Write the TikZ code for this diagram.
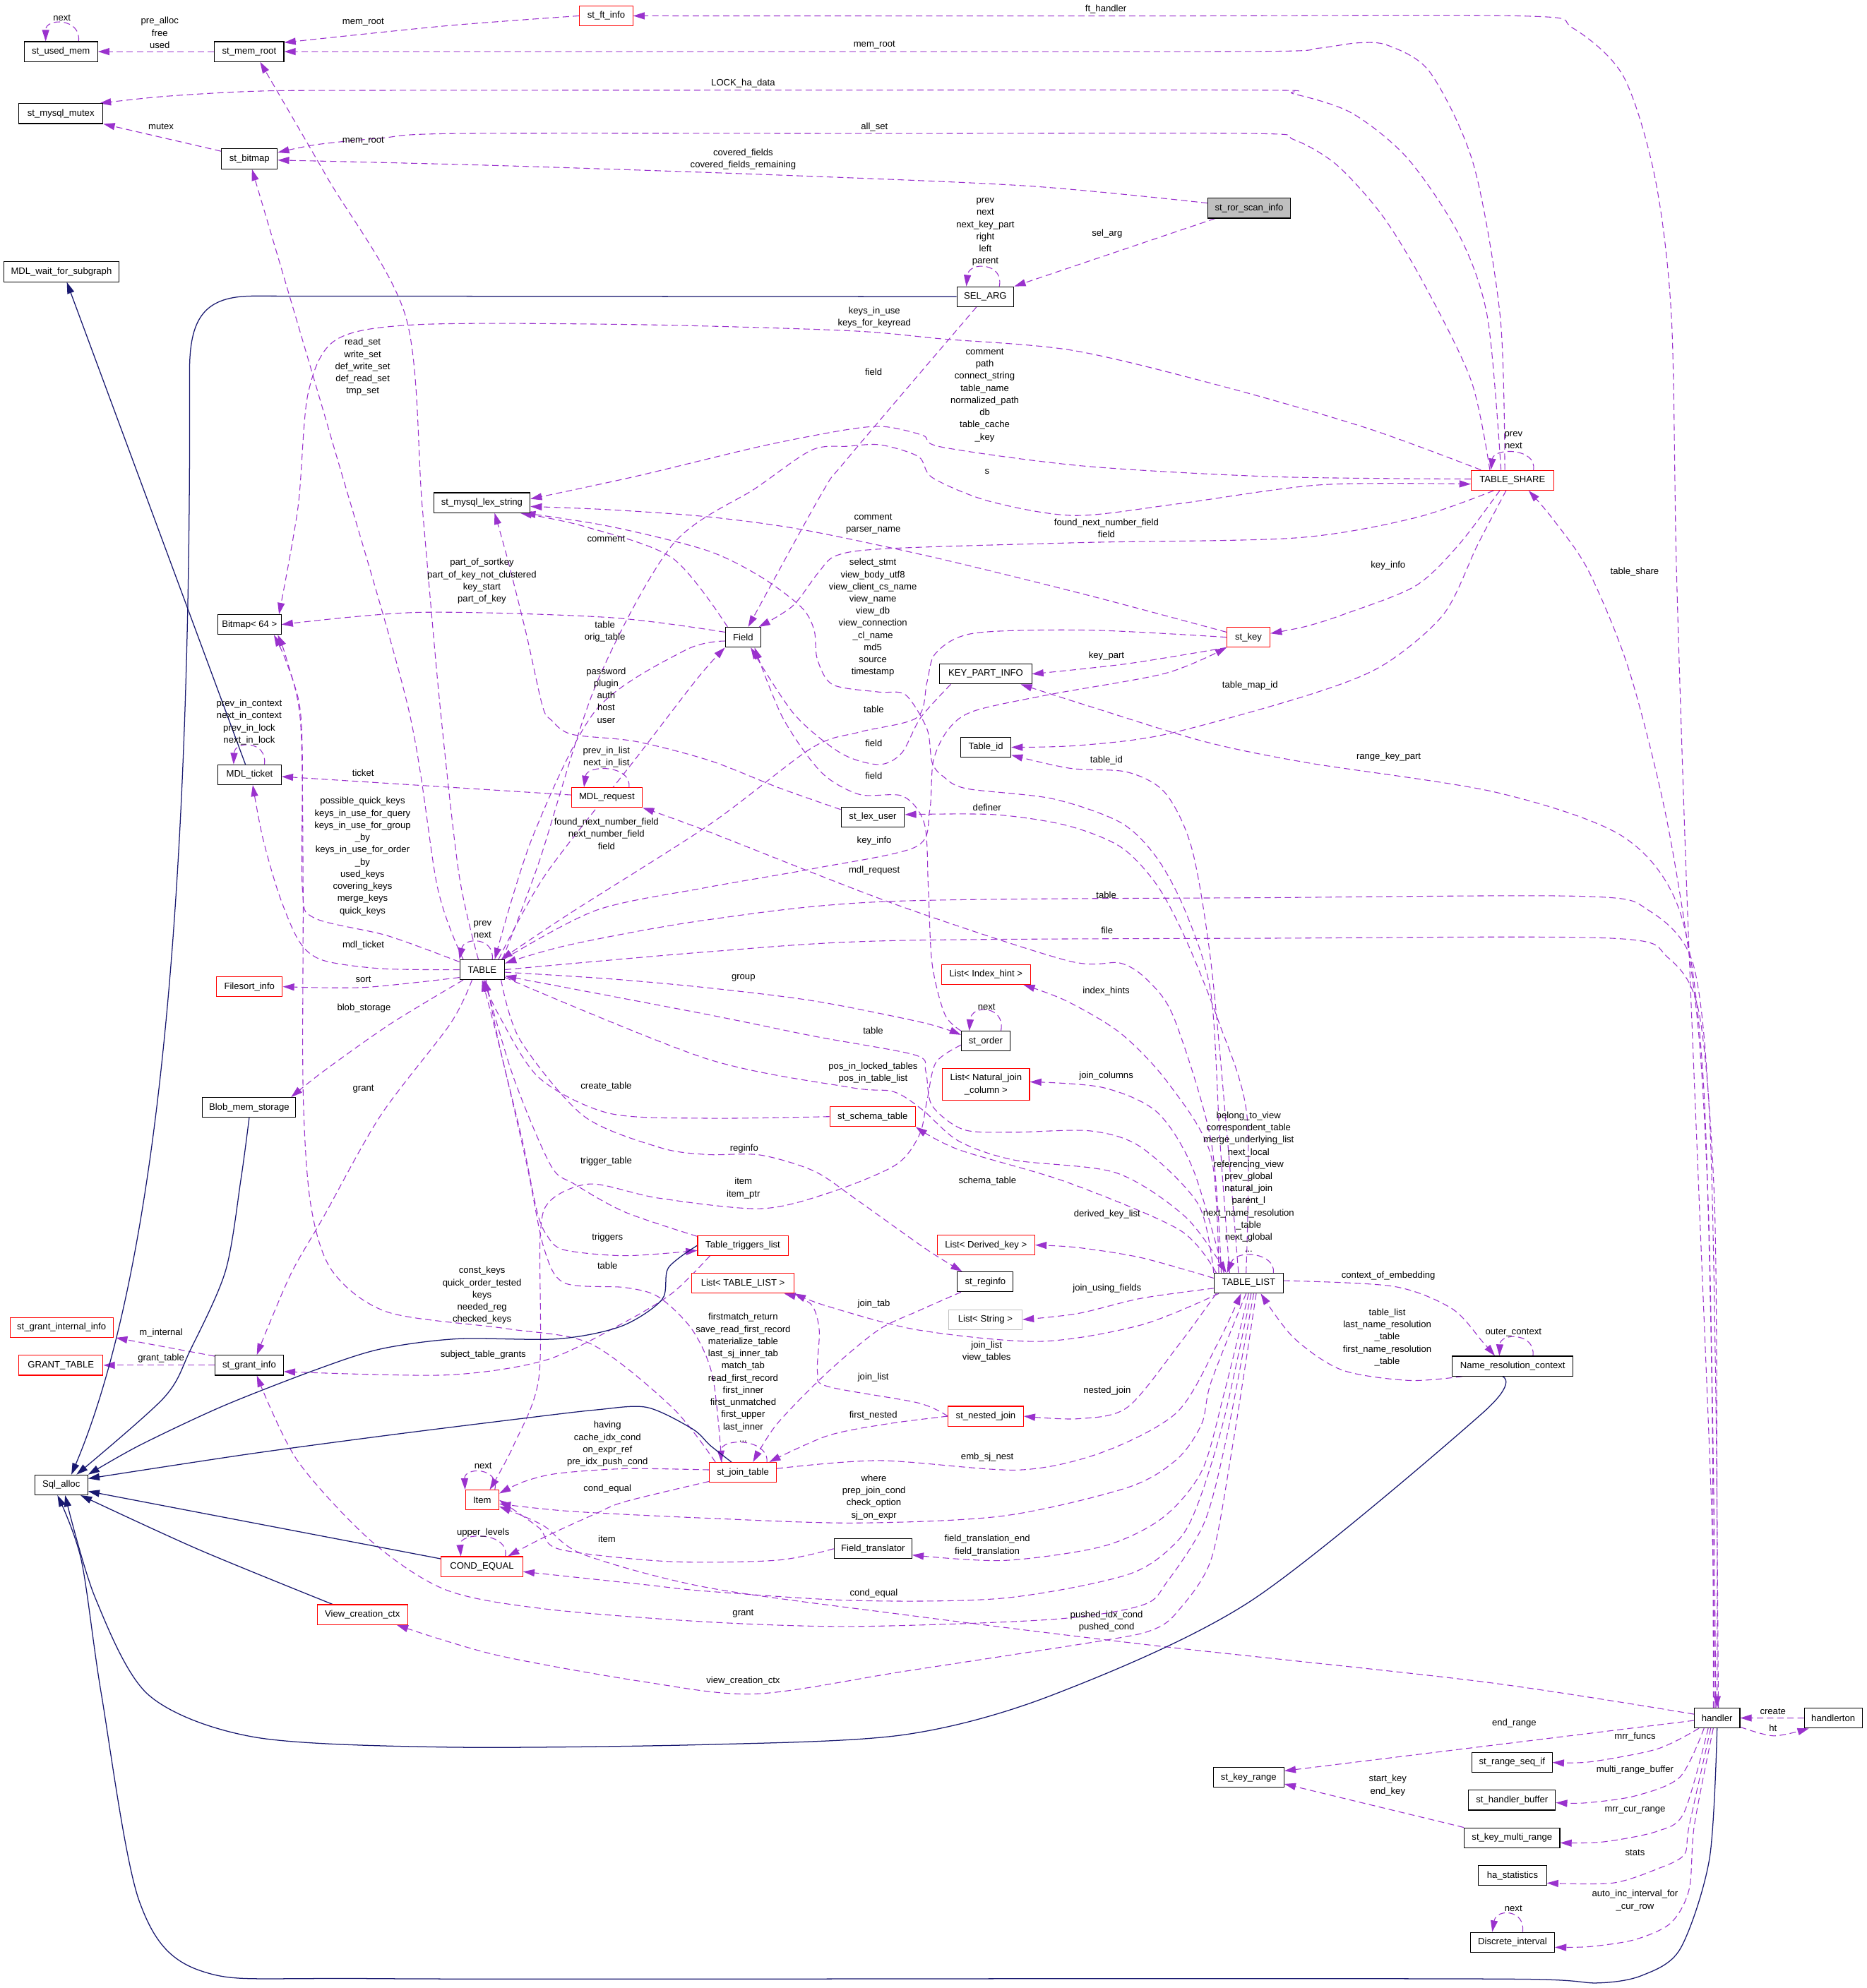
\documentclass[tikz,border=0pt]{standalone}
\usepackage{fontspec}
\setmainfont{Liberation Sans}
\usetikzlibrary{arrows.meta,calc}
\definecolor{purp}{HTML}{9A32CD}
\definecolor{navyc}{HTML}{191970}
\definecolor{grayb}{HTML}{BFBFBF}
\newcommand{\dxf}{\fontsize{7.3pt}{9.6pt}\selectfont}
\pgfdeclarelayer{bgl}
\pgfdeclarelayer{edges}
\pgfsetlayers{bgl,edges,main}
\begin{document}
\begin{tikzpicture}[x=1pt,y=-1pt,
  box/.style={draw=black,line width=0.6pt,fill=white,minimum height=15.7pt,inner sep=0pt,font=\dxf},
  rbox/.style={box,draw=red},
  lbl/.style={font=\dxf,align=center,inner sep=0pt},
  mem/.style={draw=purp,line width=0.6pt,dash pattern=on 5pt off 3pt,-{Triangle[length=9pt,width=5.6pt]}},
  inh/.style={draw=navyc,line width=0.7pt,-{Triangle[length=9pt,width=5.6pt]}}]
\useasboundingbox (0,0) rectangle (1472,1568);
\begin{pgfonlayer}{bgl}
\fill[white] (0,0) rectangle (1472,1568);
\end{pgfonlayer}
% ---------------- nodes
\node[box,minimum width=58pt] (usedmem) at (48,40.7) {st\_used\_mem};
\node[box,minimum width=54.7pt] (memroot) at (196.5,40.7) {st\_mem\_root};
\node[rbox,minimum width=42pt] (ftinfo) at (478,12.5) {st\_ft\_info};
\node[box,minimum width=66.5pt] (mutex) at (48,89.6) {st\_mysql\_mutex};
\node[box,minimum width=44pt] (bitmap) at (196.7,125.3) {st\_bitmap};
\node[box,fill=grayb,minimum width=65pt] (ror) at (985,164.2) {st\_ror\_scan\_info};
\node[box,minimum width=45pt] (selarg) at (777,234) {SEL\_ARG};
\node[box,minimum width=90.7pt] (mdlwait) at (48.4,214.4) {MDL\_wait\_for\_subgraph};
\node[rbox,minimum width=65pt] (tshare) at (1192.6,378.8) {TABLE\_SHARE};
\node[box,minimum width=76pt] (lexstr) at (380,396.5) {st\_mysql\_lex\_string};
\node[box,minimum width=50pt] (bitmap64) at (196.7,492.6) {Bitmap< 64 >};
\node[box,minimum width=28pt] (field) at (586,502.6) {Field};
\node[rbox,minimum width=34pt] (stkey) at (984.5,502.6) {st\_key};
\node[box,minimum width=72.5pt] (kpi) at (777.3,531.6) {KEY\_PART\_INFO};
\node[box,minimum width=39.5pt] (tableid) at (777.4,589.4) {Table\_id};
\node[box,minimum width=50pt] (mdlticket) at (196.8,611) {MDL\_ticket};
\node[rbox,minimum width=56pt] (mdlreq) at (478.5,629) {MDL\_request};
\node[box,minimum width=50pt] (lexuser) at (688.2,644.5) {st\_lex\_user};
\node[box,minimum width=35.3pt] (table) at (380.2,764.8) {TABLE};
\node[rbox,minimum width=52pt] (filesort) at (196.7,778.2) {Filesort\_info};
\node[rbox,minimum width=70.5pt] (idxhint) at (777.5,768.6) {List< Index\_hint >};
\node[box,minimum width=38.4pt] (order) at (777.3,821.2) {st\_order};
\node[rbox,minimum width=68.7pt,minimum height=25pt,align=center] (natjoin) at (777.5,855.3) {List< Natural\_join\\\_column >};
\node[box,minimum width=73.5pt] (blob) at (196.5,873.5) {Blob\_mem\_storage};
\node[rbox,minimum width=67.4pt] (schema) at (688.1,880.7) {st\_schema\_table};
\node[rbox,minimum width=71.3pt] (trig) at (585.8,982.3) {Table\_triggers\_list};
\node[rbox,minimum width=77pt] (derived) at (777.5,982) {List< Derived\_key >};
\node[box,minimum width=44pt] (reginfo) at (777,1011) {st\_reginfo};
\node[box,minimum width=54.5pt] (tlist) at (984.6,1012.1) {TABLE\_LIST};
\node[rbox,minimum width=80.5pt] (listtl) at (585.8,1012.1) {List< TABLE\_LIST >};
\node[box,draw=grayb,minimum width=58pt] (liststr) at (777,1040.8) {List< String >};
\node[rbox,minimum width=81.3pt] (grantint) at (48.5,1047) {st\_grant\_internal\_info};
\node[rbox,minimum width=66.5pt] (granttable) at (48,1076.8) {GRANT\_TABLE};
\node[box,minimum width=53.9pt] (grantinfo) at (196.5,1076.8) {st\_grant\_info};
\node[box,minimum width=95pt] (nrc) at (1192.8,1077.5) {Name\_resolution\_context};
\node[rbox,minimum width=59.4pt] (nested) at (777.3,1117) {st\_nested\_join};
\node[rbox,minimum width=52.8pt] (jtab) at (585.8,1161.3) {st\_join\_table};
\node[box,minimum width=41.8pt] (sqlalloc) at (48.3,1171.2) {Sql\_alloc};
\node[rbox,minimum width=26.4pt] (item) at (380.2,1183.1) {Item};
\node[box,minimum width=61.3pt] (ftrans) at (688.4,1221.5) {Field\_translator};
\node[rbox,minimum width=64.4pt] (condeq) at (380,1235.6) {COND\_EQUAL};
\node[rbox,minimum width=71.5pt] (vcc) at (285.8,1273.5) {View\_creation\_ctx};
\node[box,minimum width=36pt] (handler) at (1354,1355) {handler};
\node[box,minimum width=45.8pt] (handlerton) at (1445.6,1355.1) {handlerton};
\node[box,minimum width=55.7pt] (keyrange) at (984.6,1401.9) {st\_key\_range};
\node[box,minimum width=63.4pt] (rangeseq) at (1192.3,1390.1) {st\_range\_seq\_if};
\node[box,minimum width=68.5pt] (hbuf) at (1192.3,1419.8) {st\_handler\_buffer};
\node[box,minimum width=75.4pt] (kmr) at (1192.3,1449.5) {st\_key\_multi\_range};
\node[box,minimum width=53.6pt] (hastat) at (1192.7,1479.2) {ha\_statistics};
\node[box,minimum width=66.3pt] (discrete) at (1192.7,1531.9) {Discrete\_interval};
% ---------------- edges
\begin{pgfonlayer}{edges}
% top area
\draw[mem] plot[smooth] coordinates {($(ror.west)+(0,-4)$) (811,146.7) (612,138) (390,130.5) ($(bitmap.east)+(0,1)$)};
\draw[mem] ($(ror.south west)+(6,0)$) -- (selarg.north east);
\draw[mem] ($(selarg.north)+(11,0)$) .. controls (792,207) and (764,206) .. ($(selarg.north)+(-15,0)$);
\draw[mem] plot[smooth] coordinates {($(selarg.south)+(-7,0)$) (668,362) (647.5,390) ($(field.north)+(4,0)$)};
\draw[mem] (memroot.west) -- (usedmem.east);
\draw[mem] ($(usedmem.north)+(14,0)$) .. controls (64,14) and (36,14) .. ($(usedmem.north)+(-12,0)$);
\draw[mem] plot[smooth] coordinates {(ftinfo.west) (351.5,20.4) ($(memroot.north east)+(0,1)$)};
\draw[mem] plot[smooth] coordinates {($(handler.north)+(-2,0)$) (1350,1200) (1340,950) (1330,700) (1322,450) (1318,250) (1305,140) (1280,60) (1240,22) (1200,12.6) (900,12.6) (ftinfo.east)};
\draw[mem] plot[smooth] coordinates {($(tshare.north)+(-6,0)$) (1183,250) (1162,130) (1128,57.5) (1095,36) (1071,33.8) (1040,38) (998,40.5) (700,40.7) (memroot.east)};
\draw[mem] plot[smooth] coordinates {($(tshare.north)+(-9,0)$) (1173,250.6) (1150.7,185.6) (1110,125) (1065.8,89.1) (1020,74) (992,71.1) (600,71.1) (280,71.3) (200,72) (130,76) ($(mutex.north east)+(-3,0)$)};
\draw[mem] plot[smooth] coordinates {($(tshare.north west)+(15,0)$) (1160,300) (1122.3,222.8) (1090,170) (1054,130) (1020,110) (986.5,105.3) (700,105.3) (363,105.3) (300,109) (250,114) ($(bitmap.east)+(0,-5)$)};
\draw[mem] ($(bitmap.west)+(0,-6)$) -- (mutex.south east);
\draw[mem] plot[smooth] coordinates {($(table.north)+(-3,0)$) (362,690) (347,557) (333,400) (320,250) (258,140) ($(memroot.south)+(8.6,0)$)};
\draw[mem] plot[smooth] coordinates {($(table.north west)+(3,0)$) (345,700) (321.6,557) (259.6,340) ($(bitmap.south)+(2,0)$)};
\draw[mem] plot[smooth] coordinates {($(table.north west)+(0,2)$) (305.5,738) (247.8,724) (238.5,701.8) (238.5,600) (236,555) (225,520) ($(bitmap64.south east)+(-6,0)$)};
\draw[mem] plot[smooth] coordinates {($(jtab.north west)+(5,0)$) (530,1110) (466,1060) (400,1048) (306,1035) (262,1002.5) (245,950) (239,860) (239,700) (237,570) (226,520) ($(bitmap64.south east)+(-3,0)$)};
\draw[mem] plot[smooth] coordinates {($(tshare.north west)+(8,0)$) (1078.6,337.9) (966.7,305.4) (847.3,276.6) (743,267.3) (668.3,260.8) (500,256) (330,256) (265,268) (243,310) (235,400) ($(bitmap64.north east)+(-2,0)$)};
\draw[mem] plot[smooth] coordinates {($(tshare.west)+(0,-1)$) (1004,376) (854.8,367.6) (743,352.7) (728,343.5) (698.2,336.6) (668.3,338.8) (600,352) (500,376) ($(lexstr.east)+(0,-3)$)};
\draw[mem] plot[smooth] coordinates {($(table.north east)+(-2,0)$) (425,680) (470,540) (530,430) (596,385) (640,355) (668.3,352) (694.5,350.9) (724.3,360.2) (735.5,376.9) (780.3,395.4) (847.3,406.6) (929.4,397.3) (1041.3,382.4) ($(tshare.west)+(0,3)$)};
\draw[mem] plot[smooth] coordinates {($(stkey.west)+(0,-4)$) (858.8,469.7) (738,440) (632.4,417.7) (557,407.5) (480,402) ($(lexstr.east)+(0,3)$)};
\draw[mem] plot[smooth] coordinates {($(field.north west)+(2,0)$) (530,440) (460,415) ($(lexstr.south east)+(-8,0)$)};
\draw[mem] plot[smooth] coordinates {($(tshare.south west)+(18,0)$) (1115.9,408.4) (1022.6,424.2) (854.8,427.9) (701.8,432.6) (660,438) (645,452) (625,478) ($(field.north east)+(-2,0)$)};
\draw[mem] plot[smooth] coordinates {($(tshare.south)+(-10,0)$) (1150,430) (1115.9,462.3) (1059.8,484.5) (1030,494) ($(stkey.east)+(0,-3)$)};
\draw[mem] plot[smooth] coordinates {($(tshare.south)+(-5,0)$) (1165,430) (1138.3,484.5) (1090,525) (1030.4,548.6) (919.2,579.2) (850,588) (tableid.east)};
\draw[mem] ($(tshare.north)+(16.6,0)$) .. controls (1212,353) and (1178,353) .. ($(tshare.north)+(-17,0)$);
\draw[mem] plot[smooth] coordinates {($(handler.north)+(-1,0)$) (1351,1150) (1347,950) (1338,800) (1315,650) (1285,530) (1253,451) (1225,410) ($(tshare.south east)+(-20,0)$)};
\draw[mem] plot[smooth] coordinates {(stkey.south west) (889,523.5) (kpi.east)};
\draw[mem] plot[smooth] coordinates {(stkey.west) (858.8,497) (768.3,499.4) (738,515) (731,538) (723,566) (677.7,577.4) (640,590) (560,650) (450,720) ($(table.north east)+(-3,0)$)};
\draw[mem] plot[smooth] coordinates {($(kpi.south west)+(9,0)$) (726,566) (711,594) (693,603) (663,594) (626,563) ($(field.south)+(6,0)$)};
\draw[mem] plot[smooth] coordinates {(order.north west) (745,800) (735,760) (732,700) (729,650) (712,628) (677.7,626.6) (647.5,609) (617.3,566.2) ($(field.south)+(9,0)$)};
\draw[mem] plot[smooth] coordinates {($(handler.north)+(-3,0)$) (1350,1100) (1343,850) (1325,720) (1280,660) (1180,625) (1030.4,601.5) (949.4,584.8) (858.8,557) ($(kpi.south east)+(-9,0)$)};
\draw[mem] plot[smooth] coordinates {($(tlist.north)+(-15,0)$) (962,900) (954.8,783.2) (934.9,719.2) (912.2,676.6) (883.7,648.8) (830,630) (762.2,622) (744,612.6) (735,601.5) (731,575) (714,548) (692.8,545.8) (656.6,540) (644.5,520) (642,497) (632,479) (600,455) (557,434) (480,415) ($(lexstr.south east)+(-5,0)$)};
\draw[mem] plot[smooth] coordinates {($(tlist.north)+(-8,0)$) (968,900) (955,760) (940,670) (919,625.6) (889,609) (843.8,606) ($(tableid.south east)+(0,-2)$)};
\draw[mem] plot[smooth] coordinates {($(tlist.north)+(-2,0)$) (983.2,879) (960.5,804.5) (934.9,740.5) (912.2,697.9) (883.7,668) (841,651) (784.2,642.5) ($(lexuser.east)+(0,-2)$)};
\draw[mem] plot[smooth] coordinates {($(tlist.north west)+(6,0)$) (955,900) (926.4,804.5) (906.5,774.7) (883.7,759.7) (841,757.5) (704.7,712.8) (557,655.3) (mdlreq.south east)};
\draw[mem] plot[smooth] coordinates {($(tlist.north west)+(4,0)$) (954.8,911) (920.6,853.5) (883.7,815) (841,789.5) ($(idxhint.south east)+(-6,0)$)};
\draw[mem] plot[smooth] coordinates {($(tlist.north west)+(8,0)$) (940.6,921.7) (912.2,877) (869.4,857.7) ($(natjoin.east)+(0,-2)$)};
\draw[mem] plot[smooth] coordinates {($(tlist.north west)+(2,0)$) (930,970) (841,932.3) (755.8,906.7) (schema.south east)};
\draw[mem] ($(tlist.north east)+(-8,0)$) .. controls (1006,988) and (975,985) .. ($(tlist.north)+(-17,0)$);
\draw[mem] plot[smooth] coordinates {($(tlist.west)+(0,-4)$) (900,992) (850,984) (derived.east)};
\draw[mem] plot[smooth] coordinates {($(tlist.west)+(0,4)$) (900,1024) (850,1036) (liststr.east)};
\draw[mem] plot[smooth] coordinates {($(tlist.south west)+(4,0)$) (900,1045) (820,1058) (724,1049) (652.6,1030.3) (listtl.south east)};
\draw[mem] plot[smooth] coordinates {(nested.west) (724,1106.5) (652.6,1093.5) (644.6,1082.3) (646,1049) (639.4,1028.5) ($(listtl.south east)+(-8,0)$)};
\draw[mem] plot[smooth] coordinates {($(reginfo.south west)+(3,0)$) (724,1034) (692.6,1049) (652.6,1082.3) (612.6,1123.2) ($(jtab.north)+(8,0)$)};
\draw[mem] plot[smooth] coordinates {($(tlist.south west)+(2,0)$) (930,1060) (889,1110) (850,1119) (nested.east)};
\draw[mem] plot[smooth] coordinates {($(jtab.east)+(0,-3)$) (693.7,1152) (803,1159.4) (869.4,1145.4) (928,1114) (960,1060) ($(tlist.south)+(-6,0)$)};
\draw[mem] plot[smooth] coordinates {($(tlist.south)+(-2,0)$) (955,1090) (947.6,1123) (928,1151) (889,1173.3) (791.4,1195.6) (674.2,1201.2) (557,1197.4) (450,1192) ($(item.east)+(0,3)$)};
\draw[mem] plot[smooth] coordinates {(ftrans.west) (612.6,1230.6) (527.4,1231.6) (441.5,1222) (425,1205) (item.east)};
\draw[mem] plot[smooth] coordinates {(tlist.south) (965,1100) (947.6,1160.3) (916.4,1197.4) (869.4,1219.7) (791.4,1230.8) ($(ftrans.east)+(0,5)$)};
\draw[mem] plot[smooth] coordinates {($(tlist.south)+(2,0)$) (965,1120) (945,1185) (928,1216) (889,1242) (791.4,1260.5) (674.2,1262.4) (557,1255) (508,1249.8) ($(condeq.east)+(0,4)$)};
\draw[mem] plot[smooth] coordinates {($(tlist.south)+(4,0)$) (968,1130) (950,1200) (920.3,1247.6) (900.8,1266) (830.4,1277.2) (674.2,1282.8) (557,1279.2) (429.8,1269) (351.7,1254) (293,1215.7) (234.4,1151.8) ($(grantinfo.south)+(6,0)$)};
\draw[mem] plot[smooth] coordinates {($(tlist.south)+(6,0)$) (972,1140) (955,1230) (928,1271.7) (908.6,1285.6) (869.5,1294) (713.2,1318.2) (596,1336) (508,1326.5) (390.7,1305.2) ($(vcc.south east)+(-9,0)$)};
\draw[mem] plot[smooth] coordinates {($(handler.west)+(0,-3)$) (1169.6,1326.5) (908.6,1297.7) (713.2,1273.6) (557,1252) (460,1226) (428,1203) ($(item.south east)+(0,-3)$)};
\draw[mem] ($(handler.west)+(0,2)$) -- ($(keyrange.north east)+(0,3)$);
\draw[mem] (kmr.north west) -- ($(keyrange.south east)+(0,-3)$);
\draw[mem] plot[smooth] coordinates {($(handler.south west)+(4,0)$) (1307,1379.4) (1254,1389.6) (rangeseq.east)};
\draw[mem] plot[smooth] coordinates {($(handler.south west)+(8,0)$) (1324.6,1401.7) (1289.3,1416.5) (1250,1422) ($(hbuf.east)+(0,2)$)};
\draw[mem] plot[smooth] coordinates {($(handler.south)+(-7,0)$) (1328,1429.5) (1307,1444.3) (1264.6,1452.7) ($(kmr.east)+(0,4)$)};
\draw[mem] plot[smooth] coordinates {($(handler.south)+(-5,0)$) (1332,1440) (1328,1462.9) (1307,1474) (1271.5,1485.2) ($(hastat.east)+(0,6)$)};
\draw[mem] plot[smooth] coordinates {($(handler.south)+(-3,0)$) (1336,1440) (1332,1490) (1317.5,1516.7) (1289.3,1529.8) (1254,1535.3) ($(discrete.east)+(0,4)$)};
\draw[mem] ($(discrete.north)+(8,0)$) .. controls (1203,1506) and (1180,1505) .. ($(discrete.north)+(-16,0)$);
\draw[mem] (handlerton.west) -- (handler.east);
\draw[mem] plot[smooth] coordinates {($(handler.south east)+(0,-1)$) (1398.7,1369.1) ($(handlerton.south west)+(4,0)$)};
\draw[mem] ($(mdlreq.west)+(0,-2)$) -- ($(mdlticket.east)+(0,1.5)$);
\draw[mem] ($(mdlreq.north)+(17.5,0)$) .. controls (498,603) and (463,603) .. ($(mdlreq.north)+(-18,0)$);
\draw[mem] ($(mdlticket.north)+(11.7,0)$) .. controls (211,584) and (185,584) .. ($(mdlticket.north)+(-12.6,0)$);
\draw[mem] plot[smooth] coordinates {($(lexuser.west)+(0,-6)$) (613.8,621.2) (560,600) (501.3,584.8) (451,579.2) (434.8,568) (427.8,557) (415,500) (400,440) ($(lexstr.south)+(10,0)$)};
\draw[mem] plot[smooth] coordinates {($(table.north east)+(-1,0)$) (470,718) (557,700) (642,685) (722,668) (733,640) (736,600) (748,575) (768.3,560.7) (828.7,547.6) (919.2,531) (stkey.south west)};
\draw[mem] ($(table.north)+(8,0)$) .. controls (390,739) and (366,739) .. (table.north west);
\draw[mem] plot[smooth] coordinates {(table.west) (300.8,764) (254.7,757.4) (236,742.6) (220,705.5) (207,660) ($(mdlticket.south)+(2.5,0)$)};
\draw[mem] plot[smooth] coordinates {($(table.south west)+(0,-2)$) (287,778.8) (filesort.east)};
\draw[mem] plot[smooth] coordinates {($(table.south west)+(3,0)$) (307.8,807.6) (255,845) ($(blob.north east)+(-4,0)$)};
\draw[mem] plot[smooth] coordinates {($(table.south)+(-8,0)$) (355,807.6) (300,880) (255,960) (230.5,1002.5) (212,1045) ($(grantinfo.north)+(6,0)$)};
\draw[mem] plot[smooth] coordinates {($(table.east)+(0,2)$) (480,772) (557,779) (642,789.5) (727.4,806.5) ($(order.west)+(0,-5)$)};
\draw[mem] ($(order.north)+(12,0)$) .. controls (793,793) and (766,792) .. ($(order.north)+(-13,0)$);
\draw[mem] plot[smooth] coordinates {($(order.west)+(0,3)$) (738,838) (731,868) (725,895) (706,919) (652.6,941.2) (599.3,953.3) (519.4,945) (466.2,933.8) (434.2,946.8) (426,974.7) (425,1086) (405,1140) ($(item.north)+(6,0)$)};
\draw[mem] plot[smooth] coordinates {(tlist.north west) (945,950) (900,905) (860,892) (800,893) (760,891) (735,872) (730,845) (721.8,832.2) (642,817.3) (557,800) ($(table.east)+(0,5)$)};
\draw[mem] plot[smooth] coordinates {($(table.south east)+(0,-2)$) (557,835) (670.6,857.7) (704.5,861) (727,875) (756,900) (800,915) (880,925) (935,960) ($(tlist.north west)+(10,0)$)};
\draw[mem] plot[smooth] coordinates {($(table.south east)+(-3,0)$) (410,820) (460,880) (520,905) (557,910.6) (599.5,911) (642.2,923.8) (676.3,946.8) (730,985) ($(reginfo.north west)+(4,0)$)};
\draw[mem] plot[smooth] coordinates {($(table.south)+(3,0)$) (395,830) (412,900) (423.6,956) (431.5,974.7) (444.8,985.8) (492.8,990.4) ($(trig.west)+(0,4)$)};
\draw[mem] plot[smooth] coordinates {($(trig.north west)+(0,1)$) (492.8,956) (452.8,933.8) (434.2,919) (405,850) ($(table.south)+(2,0)$)};
\draw[mem] plot[smooth] coordinates {(schema.west) (557,882) (480,878) (425,850) (393,800) ($(table.south)+(1,0)$)};
\draw[mem] plot[smooth] coordinates {($(jtab.north west)+(10,0)$) (562,1086) (546,1049) (519.4,1023) (492.8,1015.5) (444.8,1011.8) (428.8,984) (415.5,919) (395,830) (table.south)};
\draw[mem] plot[smooth] coordinates {($(jtab.west)+(0,-2)$) (492.8,1158.4) (439.4,1162.2) (412.9,1168.7) ($(item.north east)+(0,3)$)};
\draw[mem] plot[smooth] coordinates {($(jtab.south west)+(0,-1)$) (492.8,1184.4) (468.8,1194.3) (430,1212) ($(condeq.north east)+(-12,0)$)};
\draw[mem] ($(item.north)+(10,0)$) .. controls (394,1157) and (366,1157) .. (item.north west);
\draw[mem] ($(condeq.north)+(18.5,0)$) .. controls (402,1208) and (362,1208) .. ($(condeq.north)+(-16.6,0)$);
\draw[mem] ($(jtab.north)+(19,0)$) .. controls (606,1134) and (568,1134) .. ($(jtab.north)+(-17,0)$);
\draw[mem] plot[smooth] coordinates {(nested.west) (700,1123) (652.6,1132.4) ($(jtab.north east)+(-6,0)$)};
\draw[mem] ($(grantinfo.north west)+(0,1)$) -- ($(grantint.south east)+(2,0)$);
\draw[mem] (grantinfo.west) -- (granttable.east);
\draw[mem] plot[smooth] coordinates {($(trig.south west)+(10,0)$) (530,1020) (488.4,1045.1) (429.8,1072.9) (351.7,1084.5) ($(grantinfo.east)+(0,5)$)};
\draw[mem] plot[smooth] coordinates {($(field.west)+(0,-4)$) (480,487) (330,483) (bitmap64.east)};
\draw[mem] plot[smooth] coordinates {($(table.north east)+(-5,0)$) (430,690) (500,600) (550,535) (field.south west)};
\draw[mem] plot[smooth] coordinates {($(field.west)+(0,3)$) (540,513) (470,560) (420,660) ($(table.north east)+(-8,0)$)};
\draw[mem] plot[smooth] coordinates {($(handler.north)+(1,0)$) (1353,1100) (1348,880) (1335,760) (1300,718) (1250,707) (1002,708) (700,711) (557,725.6) (450,745) ($(table.east)+(0,-5)$)};
\draw[mem] plot[smooth] coordinates {(table.east) (557,750.8) (700,742) (1002,740) (1270,740) (1315,755) (1340,800) (1352,950) (1354,1200) (handler.north)};
\draw[mem] plot[smooth] coordinates {($(tlist.east)+(0,-2)$) (1098.9,1014.6) (1145,1032.2) (1169,1058.2) ($(nrc.north)+(-14,0)$)};
\draw[mem] plot[smooth] coordinates {($(nrc.south west)+(8,0)$) (1111,1088.8) (1058,1080.5) (1020,1055) ($(tlist.south east)+(-18,0)$)};
\draw[mem] ($(nrc.north)+(16,0)$) .. controls (1211,1051) and (1183,1051) .. ($(nrc.north)+(-10.5,0)$);
% inheritance (navy)
\draw[inh] (selarg.west) -- (200,233.5) .. controls (162,233.5) and (150,250) .. (149.5,290) .. controls (151,700) and (125,1000) .. ($(sqlalloc.north)+(8,0)$);
\draw[inh] ($(mdlticket.north)+(-3.3,0)$) -- ($(mdlwait.south)+(4.3,0)$);
\draw[inh] plot[smooth] coordinates {(blob.south) (190,930) (177.8,1002.5) (150,1065) (129,1102.7) ($(sqlalloc.north)+(12,0)$)};
\draw[inh] plot[smooth] coordinates {(trig.west) (527,1000) (522,1025) (490,1046) (440,1056) (360,1056) (300,1064) (250,1080) (175.8,1109) (110,1140) (sqlalloc.north east)};
\draw[inh] plot[smooth] coordinates {($(jtab.north)+(-9,0)$) (560,1140) (546,1127) (510,1110) (470,1112) (410,1119) (306,1132) (195,1147) ($(sqlalloc.east)+(0,-5)$)};
\draw[inh] ($(condeq.north west)+(0,2)$) -- ($(sqlalloc.east)+(0,5)$);
\draw[inh] plot[smooth] coordinates {($(vcc.north west)+(12.5,0)$) (156.3,1222) ($(sqlalloc.south east)+(-6,0)$)};
\draw[inh] plot[smooth] coordinates {($(nrc.south)+(-8,0)$) (1169.6,1114) (986.8,1262.4) (830.4,1336.7) (713.2,1368.2) (557,1376) (350,1378) (200,1370) (117,1336.7) (75,1260) ($(sqlalloc.south)+(3,0)$)};
\draw[inh] plot[smooth] coordinates {(handler.south) (1348,1466) (1325,1537) (1295,1558) (1260,1564) (1200,1561) (900,1560.6) (300,1560.6) (160,1555) (110,1500) (80,1336.7) (64,1230) ($(sqlalloc.south)+(-3,0)$)};
\end{pgfonlayer}
% ---------------- labels
\node[lbl] (la1) at (48.8,13.9) {next};
\node[lbl] (la2) at (126,25.8) {pre\_alloc\\free\\used};
\node[lbl] (la3) at (286.4,17.6) {mem\_root};
\node[lbl] (la4) at (872,7) {ft\_handler};
\node[lbl] (la5) at (689.5,35.3) {mem\_root};
\node[lbl] (la6) at (586,66) {LOCK\_ha\_data};
\node[lbl] (la7) at (689.5,100.3) {all\_set};
\node[lbl] (la8) at (127,99.7) {mutex};
\node[lbl] (la9) at (286.4,111.4) {mem\_root};
\node[lbl] (la10) at (586,125.8) {covered\_fields\\covered\_fields\_remaining};
\node[lbl] (la11) at (777,182.9) {prev\\next\\next\_key\_part\\right\\left\\parent};
\node[lbl] (la12) at (873,184.4) {sel\_arg};
\node[lbl] (la13) at (689.5,250.4) {keys\_in\_use\\keys\_for\_keyread};
\node[lbl] (la14) at (286,289.5) {read\_set\\write\_set\\def\_write\_set\\def\_read\_set\\tmp\_set};
\node[lbl] (la15) at (688.8,293.3) {field};
\node[lbl] (la16) at (776.5,311.7) {comment\\path\\connect\_string\\table\_name\\normalized\_path\\db\\table\_cache\\\_key};
\node[lbl] (la17) at (1193.5,347.2) {prev\\next};
\node[lbl] (la18) at (778.4,372.2) {s};
\node[lbl] (la19) at (688.6,413.2) {comment\\parser\_name};
\node[lbl] (la20) at (872.5,416.6) {found\_next\_number\_field\\field};
\node[lbl] (la21) at (478,425) {comment};
\node[lbl] (la22) at (1094.6,445.9) {key\_info};
\node[lbl] (la23) at (1289,451) {table\_share};
\node[lbl] (la24) at (380,458.5) {part\_of\_sortkey\\part\_of\_key\_not\_clustered\\key\_start\\part\_of\_key};
\node[lbl] (la25) at (477,498) {table\\orig\_table};
\node[lbl] (la26) at (688.3,487.2) {select\_stmt\\view\_body\_utf8\\view\_client\_cs\_name\\view\_name\\view\_db\\view\_connection\\\_cl\_name\\md5\\source\\timestamp};
\node[lbl] (la27) at (872.5,517.4) {key\_part};
\node[lbl] (la28) at (985.7,540.6) {table\_map\_id};
\node[lbl] (la29) at (478,548.5) {password\\plugin\\auth\\host\\user};
\node[lbl] (la30) at (689,559.4) {table};
\node[lbl] (la31) at (196.5,569.7) {prev\_in\_context\\next\_in\_context\\prev\_in\_lock\\next\_in\_lock};
\node[lbl] (la32) at (689,586) {field};
\node[lbl] (la33) at (478.2,597) {prev\_in\_list\\next\_in\_list};
\node[lbl] (la34) at (1095,597) {range\_key\_part};
\node[lbl] (la35) at (872.5,599.6) {table\_id};
\node[lbl] (la36) at (286.3,609.5) {ticket};
\node[lbl] (la37) at (689,612) {field};
\node[lbl] (la38) at (778.3,636.8) {definer};
\node[lbl] (la39) at (478.2,657.7) {found\_next\_number\_field\\next\_number\_field\\field};
\node[lbl] (la40) at (689.4,663.2) {key\_info};
\node[lbl] (la41) at (285.9,675.5) {possible\_quick\_keys\\keys\_in\_use\_for\_query\\keys\_in\_use\_for\_group\\\_by\\keys\_in\_use\_for\_order\\\_by\\used\_keys\\covering\_keys\\merge\_keys\\quick\_keys};
\node[lbl] (la42) at (689.4,686.6) {mdl\_request};
\node[lbl] (la43) at (872.3,705.8) {table};
\node[lbl] (la44) at (380.5,733) {prev\\next};
\node[lbl] (la45) at (872.9,734) {file};
\node[lbl] (la46) at (286.5,745.4) {mdl\_ticket};
\node[lbl] (la47) at (586.2,771.4) {group};
\node[lbl] (la48) at (286.5,772.3) {sort};
\node[lbl] (la49) at (872.3,781.7) {index\_hints};
\node[lbl] (la50) at (778,794.4) {next};
\node[lbl] (la51) at (287,795) {blob\_storage};
\node[lbl] (la52) at (688.5,813) {table};
\node[lbl] (la53) at (688.5,846) {pos\_in\_locked\_tables\\pos\_in\_table\_list};
\node[lbl] (la54) at (872.3,848.6) {join\_columns};
\node[lbl] (la55) at (478,857) {create\_table};
\node[lbl] (la56) at (286.5,859) {grant};
\node[lbl] (la57) at (984.6,932.3) {belong\_to\_view\\correspondent\_table\\merge\_underlying\_list\\next\_local\\referencing\_view\\prev\_global\\natural\_join\\parent\_l\\next\_name\_resolution\\\_table\\next\_global\\...};
\node[lbl] (la58) at (586.8,906.2) {reginfo};
\node[lbl] (la59) at (478,916) {trigger\_table};
\node[lbl] (la60) at (778.6,931.7) {schema\_table};
\node[lbl] (la61) at (586.2,937.2) {item\\item\_ptr};
\node[lbl] (la62) at (873,958) {derived\_key\_list};
\node[lbl] (la63) at (479,976.2) {triggers};
\node[lbl] (la64) at (479,998.4) {table};
\node[lbl] (la65) at (1094.8,1006.2) {context\_of\_embedding};
\node[lbl] (la66) at (873,1016) {join\_using\_fields};
\node[lbl] (la67) at (380.1,1021.7) {const\_keys\\quick\_order\_tested\\keys\\needed\_reg\\checked\_keys};
\node[lbl] (la68) at (689.1,1028.5) {join\_tab};
\node[lbl] (la69) at (1193.4,1050.8) {outer\_context};
\node[lbl] (la70) at (1093.9,1054.9) {table\_list\\last\_name\_resolution\\\_table\\first\_name\_resolution\\\_table};
\node[lbl] (la71) at (127,1051.5) {m\_internal};
\node[lbl] (la72) at (778,1066) {join\_list\\view\_tables};
\node[lbl] (la73) at (381,1068.4) {subject\_table\_grants};
\node[lbl] (la74) at (127,1071.3) {grant\_table};
\node[lbl] (la75) at (586,1086.5) {firstmatch\_return\\save\_read\_first\_record\\materialize\_table\\last\_sj\_inner\_tab\\match\_tab\\read\_first\_record\\first\_inner\\first\_unmatched\\first\_upper\\last\_inner\\...};
\node[lbl] (la76) at (688.6,1086.4) {join\_list};
\node[lbl] (la77) at (873,1097) {nested\_join};
\node[lbl] (la78) at (688.6,1116.3) {first\_nested};
\node[lbl] (la79) at (479,1138.9) {having\\cache\_idx\_cond\\on\_expr\_ref\\pre\_idx\_push\_cond};
\node[lbl] (la80) at (778.5,1149.5) {emb\_sj\_nest};
\node[lbl] (la81) at (381,1156) {next};
\node[lbl] (la82) at (479,1174.6) {cond\_equal};
\node[lbl] (la83) at (689.1,1180.9) {where\\prep\_join\_cond\\check\_option\\sj\_on\_expr};
\node[lbl] (la84) at (381,1208.9) {upper\_levels};
\node[lbl] (la85) at (478.6,1213.9) {item};
\node[lbl] (la86) at (778.5,1218.9) {field\_translation\_end\\field\_translation};
\node[lbl] (la87) at (689,1256.9) {cond\_equal};
\node[lbl] (la88) at (586,1272.8) {grant};
\node[lbl] (la89) at (872.6,1278.9) {pushed\_idx\_cond\\pushed\_cond};
\node[lbl] (la90) at (586,1325.9) {view\_creation\_ctx};
\node[lbl] (la91) at (1398,1350) {create};
\node[lbl] (la92) at (1398,1362.7) {ht};
\node[lbl] (la93) at (1194,1359.5) {end\_range};
\node[lbl] (la94) at (1289.3,1370) {mrr\_funcs};
\node[lbl] (la95) at (1289.3,1396.1) {multi\_range\_buffer};
\node[lbl] (la96) at (1094.3,1408.3) {start\_key\\end\_key};
\node[lbl] (la97) at (1289.3,1428) {mrr\_cur\_range};
\node[lbl] (la98) at (1289.3,1461.4) {stats};
\node[lbl] (la99) at (1289.3,1499) {auto\_inc\_interval\_for\\\_cur\_row};
\node[lbl] (la100) at (1193.4,1505.3) {next};
\end{tikzpicture}
\end{document}
